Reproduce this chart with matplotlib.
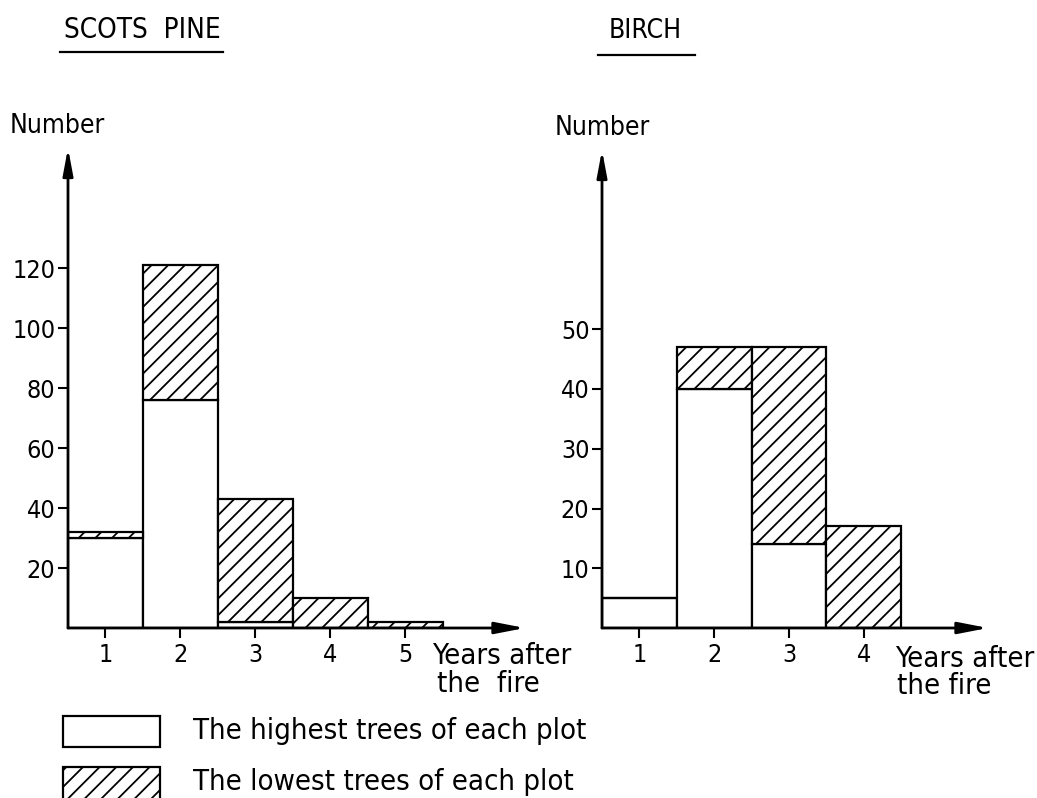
import matplotlib
matplotlib.use("Agg")
import matplotlib.pyplot as plt
from matplotlib.patches import Rectangle

# data
pine_years = [1, 2, 3, 4, 5]
pine_high = [30, 76, 2, 0, 0]      # white part (highest trees)
pine_low = [2, 45, 41, 10, 2]      # hatched part (lowest trees)
pine_yticks = [20, 40, 60, 80, 100, 120]

birch_years = [1, 2, 3, 4]
birch_high = [5, 40, 14, 0]
birch_low = [0, 7, 33, 17]
birch_yticks = [10, 20, 30, 40, 50]

plt.rcParams["font.family"] = ["DejaVu Sans"]
plt.rcParams["font.stretch"] = "condensed"
plt.rcParams["hatch.linewidth"] = 1.3

W, H = 1037, 798
fig = plt.figure(figsize=(W / 100, H / 100), dpi=100)


def fx(x):
    return x / W


def fy(y):
    return 1 - y / H


def draw_panel(rect, years, high, low, yticks, xmax, ymax):
    ax = fig.add_axes(rect)
    ax.bar(years, high, width=1.0, color="white", edgecolor="black", linewidth=1.6)
    ax.bar(years, low, width=1.0, bottom=high, color="white", edgecolor="black",
           linewidth=1.6, hatch="//")
    ax.set_xlim(0.5, xmax)
    ax.set_ylim(0, ymax)
    for s in ax.spines.values():
        s.set_visible(False)
    ax.set_xticks(years)
    ax.set_yticks(yticks)
    ax.tick_params(direction="out", length=7, width=1.5, labelsize=18, pad=2)
    ax.tick_params(axis="x", pad=4)
    # axis lines with arrow heads
    ax.annotate("", xy=(1, 0), xytext=(0, 0), xycoords="axes fraction",
                arrowprops=dict(arrowstyle="-|>,head_length=1.8,head_width=0.35",
                                lw=2, color="black", shrinkA=0, shrinkB=0))
    ax.annotate("", xy=(0, 1), xytext=(0, 0), xycoords="axes fraction",
                arrowprops=dict(arrowstyle="-|>,head_length=1.6,head_width=0.3",
                                lw=2, color="black", shrinkA=0, shrinkB=0))
    return ax


# SCOTS PINE panel
draw_panel([fx(68), fy(628), fx(525 - 68), (628 - 148) / H],
           pine_years, pine_high, pine_low, pine_yticks, 6.6, 160)
# BIRCH panel
draw_panel([fx(602), fy(628), fx(988 - 602), (628 - 150) / H],
           birch_years, birch_high, birch_low, birch_yticks, 5.66, 80)

# titles with underlines
fig.text(fx(142), fy(30), "SCOTS  PINE", ha="center", va="center", fontsize=20)
fig.add_artist(plt.Line2D([fx(60), fx(223)], [fy(52), fy(52)], color="black", lw=1.6))
fig.text(fx(645), fy(31), "BIRCH", ha="center", va="center", fontsize=19)
fig.add_artist(plt.Line2D([fx(598), fx(695)], [fy(55), fy(55)], color="black", lw=1.6))

# axis titles
fig.text(fx(10), fy(126), "Number", ha="left", va="center", fontsize=19)
fig.text(fx(555), fy(128), "Number", ha="left", va="center", fontsize=19)
fig.text(fx(432), fy(656), "Years after", ha="left", va="center", fontsize=21)
fig.text(fx(437), fy(684), "the  fire", ha="left", va="center", fontsize=21)
fig.text(fx(895), fy(659), "Years after", ha="left", va="center", fontsize=21)
fig.text(fx(897), fy(686), "the fire", ha="left", va="center", fontsize=21)

# legend
fig.add_artist(Rectangle((fx(63), fy(747)), fx(97), (747 - 716) / H,
                         facecolor="white", edgecolor="black", lw=1.6))
fig.add_artist(Rectangle((fx(63), fy(800)), fx(97), (800 - 767) / H,
                         facecolor="white", edgecolor="black", lw=1.6, hatch="//"))
fig.text(fx(193), fy(731), "The highest trees of each plot", ha="left", va="center", fontsize=21)
fig.text(fx(193), fy(782), "The lowest trees of each plot", ha="left", va="center", fontsize=21)

fig.savefig("out.png", dpi=100, facecolor="white")
